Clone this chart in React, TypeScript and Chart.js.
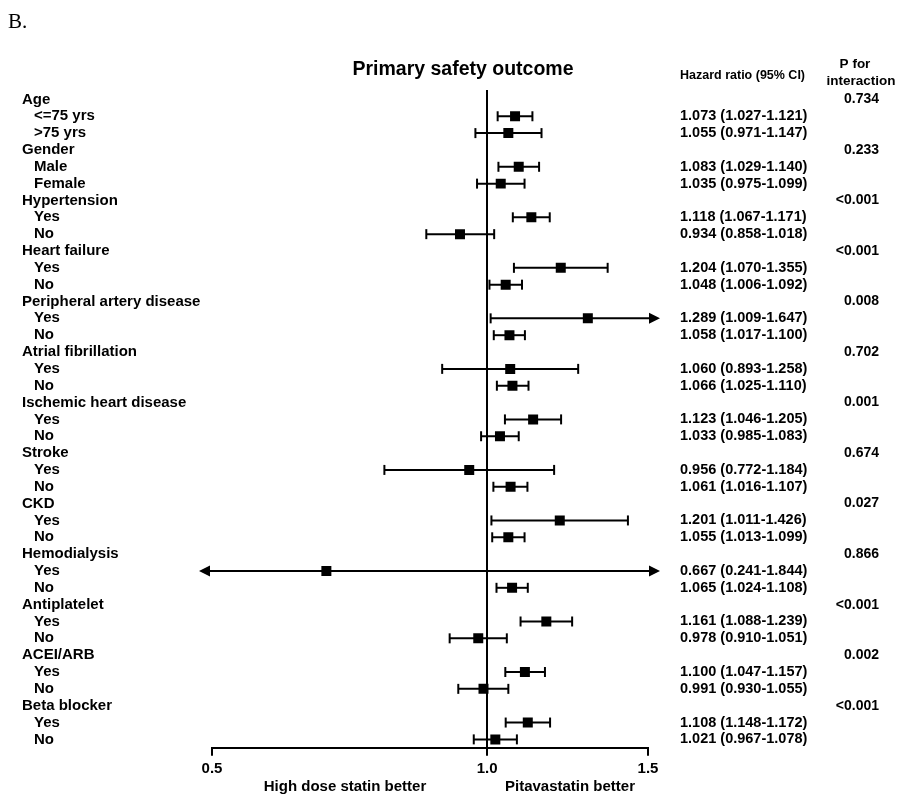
import React, { useEffect, useRef } from 'react';
import { Chart, registerables } from 'chart.js';

Chart.register(...registerables);

const groupNames = [
  'Age', 'Gender', 'Hypertension', 'Heart failure', 'Peripheral artery disease',
  'Atrial fibrillation', 'Ischemic heart disease', 'Stroke', 'CKD', 'Hemodialysis',
  'Antiplatelet', 'ACEI/ARB', 'Beta blocker',
];
const pInteraction = [
  '0.734', '0.233', '<0.001', '<0.001', '0.008', '0.702', '0.001', '0.674',
  '0.027', '0.866', '<0.001', '0.002', '<0.001',
];
const subLabels = [
  '<=75 yrs', '>75 yrs', 'Male', 'Female', 'Yes', 'No', 'Yes', 'No', 'Yes', 'No',
  'Yes', 'No', 'Yes', 'No', 'Yes', 'No', 'Yes', 'No', 'Yes', 'No', 'Yes', 'No',
  'Yes', 'No', 'Yes', 'No',
];
const hazardRatios = [
  1.073, 1.055, 1.083, 1.035, 1.118, 0.934, 1.204, 1.048, 1.289, 1.058,
  1.060, 1.066, 1.123, 1.033, 0.956, 1.061, 1.201, 1.055, 0.667, 1.065,
  1.161, 0.978, 1.100, 0.991, 1.108, 1.021,
];
const lowerCI = [
  1.027, 0.971, 1.029, 0.975, 1.067, 0.858, 1.070, 1.006, 1.009, 1.017,
  0.893, 1.025, 1.046, 0.985, 0.772, 1.016, 1.011, 1.013, 0.241, 1.024,
  1.088, 0.910, 1.047, 0.930, 1.048, 0.967,
];
const upperCI = [
  1.121, 1.147, 1.140, 1.099, 1.171, 1.018, 1.355, 1.092, 1.647, 1.100,
  1.258, 1.110, 1.205, 1.083, 1.184, 1.107, 1.426, 1.099, 1.844, 1.108,
  1.239, 1.051, 1.157, 1.055, 1.172, 1.078,
];
const hrLabels = [
  '1.073 (1.027-1.121)', '1.055 (0.971-1.147)', '1.083 (1.029-1.140)', '1.035 (0.975-1.099)',
  '1.118 (1.067-1.171)', '0.934 (0.858-1.018)', '1.204 (1.070-1.355)', '1.048 (1.006-1.092)',
  '1.289 (1.009-1.647)', '1.058 (1.017-1.100)', '1.060 (0.893-1.258)', '1.066 (1.025-1.110)',
  '1.123 (1.046-1.205)', '1.033 (0.985-1.083)', '0.956 (0.772-1.184)', '1.061 (1.016-1.107)',
  '1.201 (1.011-1.426)', '1.055 (1.013-1.099)', '0.667 (0.241-1.844)', '1.065 (1.024-1.108)',
  '1.161 (1.088-1.239)', '0.978 (0.910-1.051)', '1.100 (1.047-1.157)', '0.991 (0.930-1.055)',
  '1.108 (1.148-1.172)', '1.021 (0.967-1.078)',
];
const xTicks = [0.5, 1.0, 1.5];

const FONT = "'Liberation Sans', Arial, Helvetica, sans-serif";
const ROWS = groupNames.length * 3;
const subRow = (k: number) => Math.floor(k / 2) * 3 + 1 + (k % 2);

const forestPlugin = {
  id: 'forest',
  beforeDatasetsDraw(chart: any) {
    const { ctx, chartArea, scales } = chart;
    const x = scales.x;
    const y = scales.y;
    ctx.save();
    ctx.strokeStyle = '#000';
    ctx.fillStyle = '#000';
    ctx.lineWidth = 2;
    const x1 = Math.round(x.getPixelForValue(1));
    ctx.beginPath();
    ctx.moveTo(x1, chartArea.top - 1);
    ctx.lineTo(x1, chartArea.bottom);
    ctx.stroke();
    hazardRatios.forEach((_hr, k) => {
      const py = y.getPixelForValue(subRow(k));
      const loOut = lowerCI[k] < x.min;
      const hiOut = upperCI[k] > x.max;
      const xl = loOut ? chartArea.left - 13 : x.getPixelForValue(lowerCI[k]);
      const xr = hiOut ? chartArea.right + 12 : x.getPixelForValue(upperCI[k]);
      ctx.beginPath();
      ctx.moveTo(loOut ? xl + 8 : xl, py);
      ctx.lineTo(hiOut ? xr - 8 : xr, py);
      ctx.stroke();
      if (loOut) {
        ctx.beginPath();
        ctx.moveTo(xl, py);
        ctx.lineTo(xl + 11, py - 5.5);
        ctx.lineTo(xl + 11, py + 5.5);
        ctx.closePath();
        ctx.fill();
      } else {
        ctx.beginPath();
        ctx.moveTo(xl, py - 5);
        ctx.lineTo(xl, py + 5);
        ctx.stroke();
      }
      if (hiOut) {
        ctx.beginPath();
        ctx.moveTo(xr, py);
        ctx.lineTo(xr - 11, py - 5.5);
        ctx.lineTo(xr - 11, py + 5.5);
        ctx.closePath();
        ctx.fill();
      } else {
        ctx.beginPath();
        ctx.moveTo(xr, py - 5);
        ctx.lineTo(xr, py + 5);
        ctx.stroke();
      }
    });
    ctx.restore();
  },
  afterDraw(chart: any) {
    const { ctx } = chart;
    const y = chart.scales.y;
    ctx.save();
    ctx.fillStyle = '#000';
    ctx.textBaseline = 'middle';

    ctx.font = `21px 'Liberation Serif', 'Times New Roman', serif`;
    ctx.textAlign = 'left';
    ctx.fillText('B.', 8, 22);

    ctx.font = `bold 19.5px ${FONT}`;
    ctx.textAlign = 'center';
    ctx.fillText('Primary safety outcome', 463, 70);

    ctx.font = `bold 12.5px ${FONT}`;
    ctx.textAlign = 'left';
    ctx.fillText('Hazard ratio (95% CI)', 680, 76);

    ctx.font = `bold 13.5px ${FONT}`;
    ctx.textAlign = 'center';
    ctx.fillText('P for', 855, 64);
    ctx.fillText('interaction', 861, 81);

    groupNames.forEach((name, g) => {
      const py = y.getPixelForValue(g * 3);
      ctx.font = `bold 15px ${FONT}`;
      ctx.textAlign = 'left';
      ctx.fillText(name, 22, py);
      ctx.font = `bold 14px ${FONT}`;
      ctx.textAlign = 'right';
      ctx.fillText(pInteraction[g], 879, py);
    });
    subLabels.forEach((lab, k) => {
      const py = y.getPixelForValue(subRow(k));
      ctx.font = `bold 15px ${FONT}`;
      ctx.textAlign = 'left';
      ctx.fillText(lab, 34, py);
      ctx.font = `bold 14.5px ${FONT}`;
      ctx.fillText(hrLabels[k], 680, py);
    });

    ctx.font = `bold 15px ${FONT}`;
    ctx.textAlign = 'center';
    ctx.fillText('High dose statin better', 345, 787);
    ctx.fillText('Pitavastatin better', 570, 787);
    ctx.restore();
  },
};

export default function App() {
  const ref = useRef<HTMLCanvasElement | null>(null);
  useEffect(() => {
    if (!ref.current) return;
    const points = hazardRatios.map((hr, k) => ({ x: hr, y: subRow(k) }));
    const chart = new Chart(ref.current, {
      type: 'scatter',
      data: {
        datasets: [
          {
            data: points,
            pointStyle: 'rect',
            pointRadius: 7.07,
            pointHoverRadius: 7.07,
            backgroundColor: '#000',
            borderColor: '#000',
            borderWidth: 0,
          },
        ],
      },
      options: {
        animation: false,
        responsive: false,
        maintainAspectRatio: false,
        layout: { padding: { left: 212, right: 250, top: 91, bottom: 0.2 } },
        plugins: { legend: { display: false }, tooltip: { enabled: false } },
        scales: {
          x: {
            type: 'logarithmic',
            min: 0.5,
            max: 1.5,
            afterBuildTicks: (s: any) => {
              s.ticks = xTicks.map((v) => ({ value: v }));
            },
            afterFit: (s: any) => {
              s.height = 46;
            },
            ticks: {
              autoSkip: false,
              maxRotation: 0,
              color: '#000',
              padding: 4,
              font: { family: FONT, size: 15, weight: 'bold' },
              callback: (v: any) => Number(v).toFixed(1),
            },
            grid: {
              display: true,
              drawOnChartArea: false,
              drawTicks: true,
              tickLength: 8,
              color: '#000',
              lineWidth: 2,
            },
            border: { display: true, color: '#000', width: 2 },
          },
          y: {
            type: 'linear',
            min: -0.5,
            max: ROWS - 0.5,
            reverse: true,
            display: false,
          },
        },
      },
      plugins: [forestPlugin],
    } as any);
    return () => chart.destroy();
  }, []);
  return (
    <div style={{ position: 'absolute', left: 0, top: 0, width: 898, height: 794, background: '#fff' }}>
      <canvas ref={ref} width={898} height={794} style={{ display: 'block' }} />
    </div>
  );
}
